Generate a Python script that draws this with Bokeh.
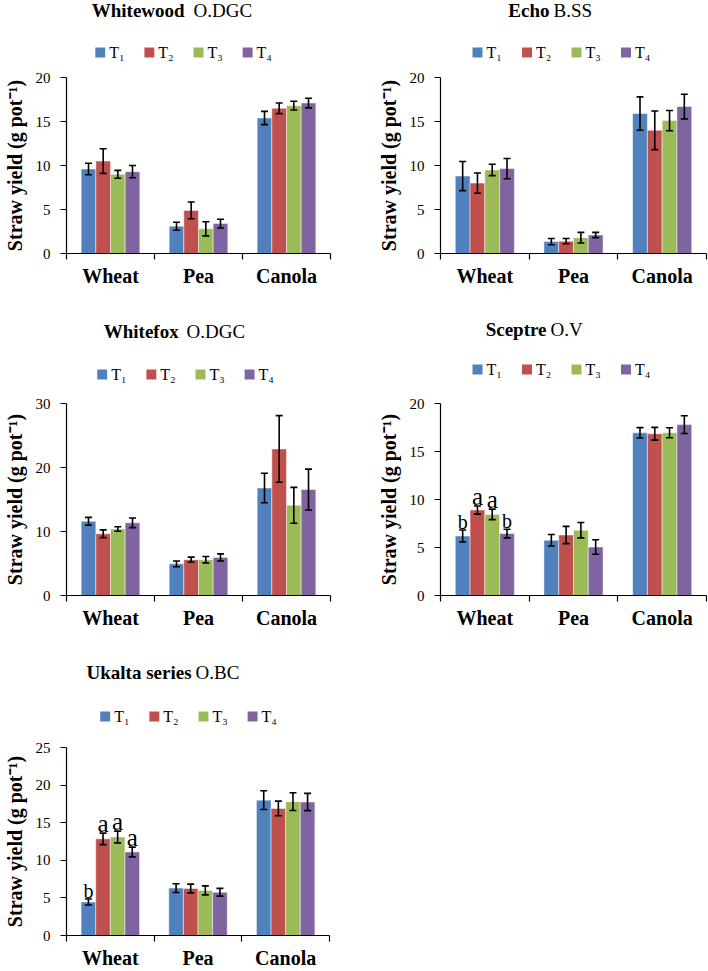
import numpy as np
from bokeh.plotting import figure
from bokeh.models import (ColumnDataSource, Range1d, FixedTicker, Whisker, TeeHead, Label)
from bokeh.layouts import row, column
from bokeh.embed import file_html
from bokeh.resources import INLINE
from bokeh.core.properties import value, field

# ---------------- data ----------------
crops = ["Wheat", "Pea", "Canola"]
treatments = ["T\u2081", "T\u2082", "T\u2083", "T\u2084"]
colors = ["#4F81BD", "#C0504D", "#9BBB59", "#8064A2"]

# rows: T1..T4, columns: Wheat, Pea, Canola
whitewood_mean = [[9.6, 3.1, 15.4], [10.5, 4.9, 16.5], [9.0, 2.8, 16.8], [9.3, 3.4, 17.1]]
whitewood_err = [[0.65, 0.45, 0.75], [1.4, 0.95, 0.6], [0.45, 0.8, 0.5], [0.7, 0.5, 0.55]]

echo_mean = [[8.8, 1.35, 15.9], [8.0, 1.4, 14.0], [9.5, 1.8, 15.1], [9.65, 2.1, 16.7]]
echo_err = [[1.65, 0.35, 1.9], [1.15, 0.3, 2.2], [0.65, 0.6, 1.15], [1.15, 0.3, 1.4]]

whitefox_mean = [[11.6, 4.95, 16.8], [9.65, 5.6, 22.9], [10.4, 5.6, 14.1], [11.35, 5.95, 16.55]]
whitefox_err = [[0.6, 0.45, 2.3], [0.6, 0.4, 5.2], [0.35, 0.5, 2.8], [0.75, 0.55, 3.2]]

sceptre_mean = [[6.2, 5.75, 16.95], [8.9, 6.3, 16.85], [8.45, 6.8, 16.95], [6.45, 5.05, 17.8]]
sceptre_err = [[0.62, 0.6, 0.54], [0.42, 0.9, 0.66], [0.55, 0.8, 0.52], [0.45, 0.76, 0.93]]
sceptre_wheat_letters = ["b", "a", "a", "b"]

ukalta_mean = [[4.45, 6.3, 18.0], [12.85, 6.25, 16.9], [13.1, 6.0, 17.8], [11.1, 5.75, 17.75]]
ukalta_err = [[0.4, 0.58, 1.25], [0.77, 0.58, 0.97], [0.78, 0.6, 1.18], [0.65, 0.52, 1.15]]
ukalta_wheat_letters = ["b", "a", "a", "a"]

whitewood_ticks = [0, 5, 10, 15, 20]
echo_ticks = [0, 5, 10, 15, 20]
whitefox_ticks = [0, 10, 20, 30]
sceptre_ticks = [0, 5, 10, 15, 20]
ukalta_ticks = [0, 5, 10, 15, 20, 25]

SERIF = "Liberation Serif"
Y_LABEL = "Straw yield (g pot\u207b\u00b9)"
OFFSETS = [-0.25, -0.0833, 0.0833, 0.25]
BAR_W = 0.1667
PLOT_TOP_PAD = 10
LEGEND_STEP = 49.5
LETTER_STYLE = {"a": ("25px", 10), "b": ("20px", 8)}  # font size, gap above bar (px)


def make_header(title_bold, title_rest, g):
    x0, y0, w = g["x0"], g["y0"], g["w"]
    L, R = g["L"], g["R"]
    hh = g["T"] - PLOT_TOP_PAD - y0
    hd = figure(width=w, height=hh, output_backend="svg", toolbar_location=None,
                x_range=Range1d(L - x0, R - x0), y_range=Range1d(0, hh),
                x_axis_location=None, y_axis_location=None,
                min_border_left=L - x0, min_border_right=x0 + w - R,
                min_border_top=0, min_border_bottom=0)
    hd.outline_line_color = None
    hd.grid.visible = False

    def hx(sx):
        return sx - x0

    def hy(sy):
        return hh - (sy - y0)

    hd.add_layout(Label(x=hx(g["bold_right"]), y=hy(g["title_cy"]), text=title_bold,
                        text_align="right", text_baseline="middle", text_font=SERIF,
                        text_font_style="bold", text_font_size="19px", text_color="black"))
    hd.add_layout(Label(x=hx(g["rest_left"]), y=hy(g["title_cy"]), text=title_rest,
                        text_align="left", text_baseline="middle", text_font=SERIF,
                        text_font_size="19px", text_color="black"))

    # legend: colour square + treatment label
    lx = [hx(g["legend_x"]) + i * LEGEND_STEP for i in range(len(treatments))]
    ly = hy(g["legend_cy"])
    lsrc = ColumnDataSource(dict(sq=[x + 5 for x in lx], tx=[x + 14 for x in lx],
                                 y=[ly] * len(treatments), c=colors, t=treatments))
    hd.rect(x="sq", y="y", width=10, height=10, fill_color="c", line_color=None, source=lsrc)
    hd.text(x="tx", y="y", text="t", source=lsrc, text_font=value(SERIF),
            text_font_size="16px", text_baseline="middle", text_align="left",
            text_color="black")
    return hd, hh


def make_panel(title_bold, title_rest, means, errs, yticks, g, letters=None):
    hd, hh = make_header(title_bold, title_rest, g)
    L, R, T, B = g["L"], g["R"], g["T"], g["B"]
    ymax = yticks[-1]
    w = g["w"]
    x0 = g["x0"]
    top0 = g["y0"] + hh
    h = g["h"] - hh
    p = figure(width=w, height=h, output_backend="svg", toolbar_location=None,
               x_range=Range1d(0, len(crops)), y_range=Range1d(0, ymax),
               min_border_left=L - x0, min_border_right=x0 + w - R,
               min_border_top=T - top0, min_border_bottom=top0 + h - B)
    p.outline_line_color = None
    p.grid.visible = False
    pxy = (B - T) / ymax

    centers = np.arange(len(crops)) + 0.5
    for i, t in enumerate(treatments):
        m = np.array(means[i], dtype=float)
        e = np.array(errs[i], dtype=float)
        src = ColumnDataSource(dict(x=centers + OFFSETS[i], top=m, upper=m + e, lower=m - e))
        p.vbar(x="x", top="top", bottom=0, width=BAR_W, source=src,
               fill_color=colors[i], line_color="white", line_alpha=0.6, line_width=0.8)
        wk = Whisker(source=src, base="x", upper="upper", lower="lower", dimension="height",
                     line_color="black", line_width=1.6, level="overlay",
                     upper_head=TeeHead(size=7, line_color="black", line_width=1.6),
                     lower_head=TeeHead(size=7, line_color="black", line_width=1.6))
        p.add_layout(wk)

    if letters is not None:
        xs = [centers[0] + OFFSETS[i] for i in range(4)]
        ys = [means[i][0] + errs[i][0] + LETTER_STYLE[s][1] / pxy
              for i, s in enumerate(letters)]
        sizes = [LETTER_STYLE[s][0] for s in letters]
        lsrc = ColumnDataSource(dict(x=xs, y=ys, t=letters, size=sizes))
        p.text(x="x", y="y", text="t", source=lsrc, text_font=value(SERIF),
               text_font_size=field("size"), text_align="center",
               text_baseline="middle", text_color="black", level="overlay")

    # x axis: labels at centres, boundary tick marks
    ax = p.xaxis[0]
    ax.ticker = FixedTicker(ticks=list(centers), minor_ticks=list(range(len(crops) + 1)))
    ax.major_label_overrides = {float(c): name for c, name in zip(centers, crops)}
    ax.major_tick_line_color = None
    ax.major_tick_out = 0
    ax.major_tick_in = 0
    ax.minor_tick_out = 6
    ax.minor_tick_in = 0
    ax.minor_tick_line_color = "black"
    ax.minor_tick_line_width = 1.2
    ax.axis_line_color = "black"
    ax.axis_line_width = 1.2
    ax.major_label_text_font = SERIF
    ax.major_label_text_font_style = "bold"
    ax.major_label_text_font_size = "20px"
    ax.major_label_text_color = "black"
    ax.major_label_standoff = 5

    ay = p.yaxis[0]
    ay.ticker = FixedTicker(ticks=yticks)
    ay.major_tick_out = 6
    ay.major_tick_in = 0
    ay.minor_tick_line_color = None
    ay.major_tick_line_color = "black"
    ay.major_tick_line_width = 1.2
    ay.axis_line_color = "black"
    ay.axis_line_width = 1.2
    ay.major_label_text_font = SERIF
    ay.major_label_text_font_size = "15px"
    ay.major_label_text_color = "black"
    ay.major_label_standoff = 10
    ay.axis_label = Y_LABEL
    ay.axis_label_text_font = SERIF
    ay.axis_label_text_font_style = "bold"
    ay.axis_label_text_font_size = "20px"
    ay.axis_label_text_color = "black"
    ay.axis_label_standoff = 7

    return column(hd, p)


g1 = dict(x0=0, y0=0, w=354, h=300, L=64, R=330, T=77, B=253,
          title_cy=10, bold_right=183, rest_left=192, legend_cy=52, legend_x=93)
g2 = dict(x0=354, y0=0, w=354, h=300, L=440, R=706, T=77, B=253,
          title_cy=10, bold_right=549, rest_left=553, legend_cy=52, legend_x=472)
g3 = dict(x0=0, y0=300, w=354, h=335, L=64, R=330, T=403, B=595,
          title_cy=331, bold_right=177, rest_left=185, legend_cy=374, legend_x=95)
g4 = dict(x0=354, y0=300, w=354, h=335, L=440, R=706, T=403, B=595,
          title_cy=329, bold_right=546, rest_left=550, legend_cy=369, legend_x=472)
g5 = dict(x0=0, y0=635, w=354, h=336, L=64, R=329, T=747, B=936,
          title_cy=672, bold_right=190, rest_left=194, legend_cy=716, legend_x=98)

c1 = make_panel("Whitewood", "O.DGC", whitewood_mean, whitewood_err, whitewood_ticks, g1)
c2 = make_panel("Echo", "B.SS", echo_mean, echo_err, echo_ticks, g2)
c3 = make_panel("Whitefox", "O.DGC", whitefox_mean, whitefox_err, whitefox_ticks, g3)
c4 = make_panel("Sceptre", "O.V", sceptre_mean, sceptre_err, sceptre_ticks, g4,
                letters=sceptre_wheat_letters)
c5 = make_panel("Ukalta series", "O.BC", ukalta_mean, ukalta_err, ukalta_ticks, g5,
                letters=ukalta_wheat_letters)

layout = column(row(c1, c2), row(c3, c4), row(c5))
open("out.html", "w").write(file_html(layout, INLINE))
